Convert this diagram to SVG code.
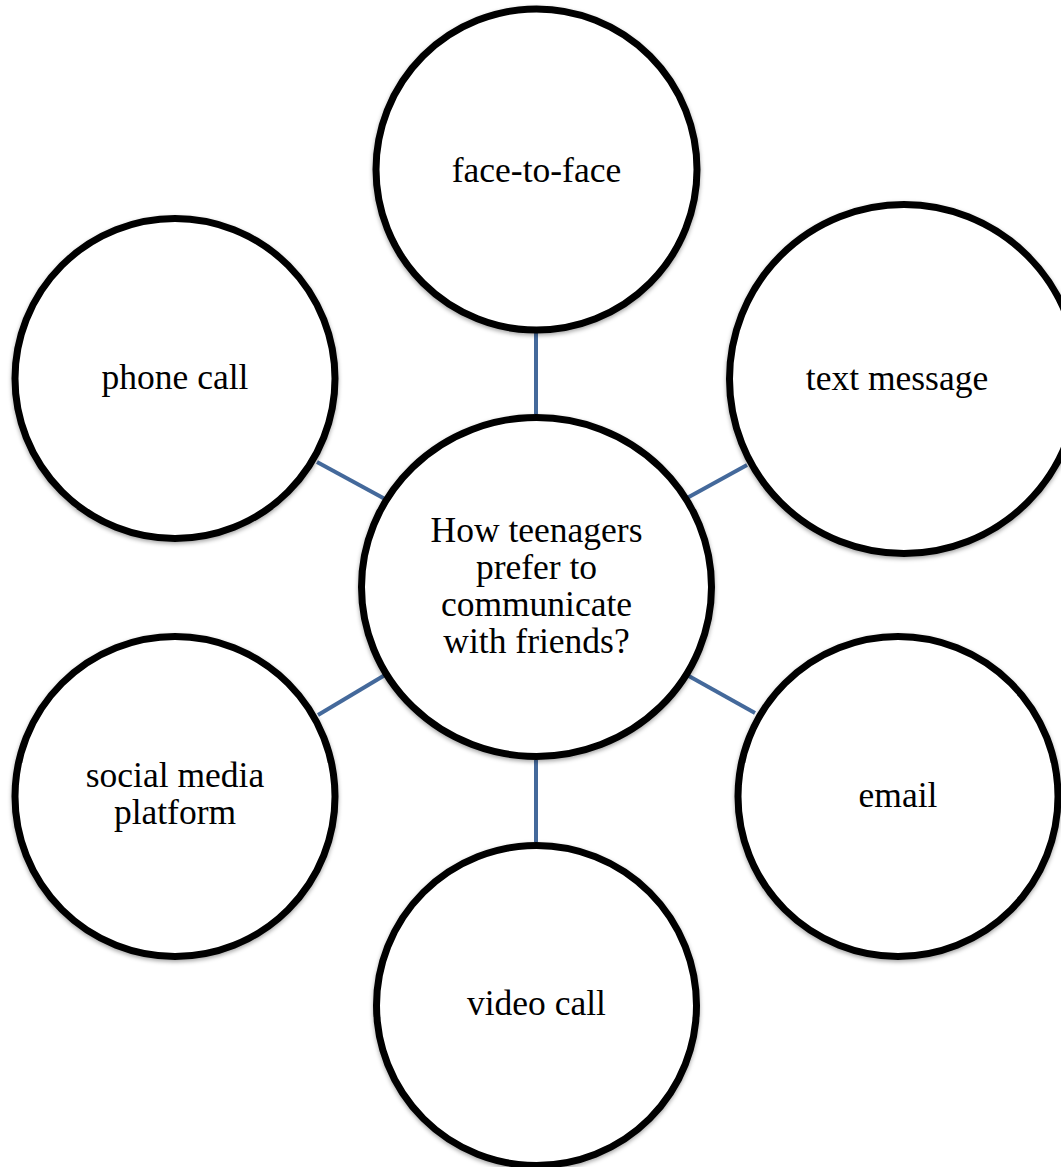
<svg xmlns="http://www.w3.org/2000/svg" width="1061" height="1167" viewBox="0 0 1061 1167">
<style>
.n{fill:#fff;stroke:#000;stroke-width:7;filter:url(#sh)}
.t{font-family:"Liberation Serif",serif;font-size:35.5px;fill:#000;text-anchor:middle}
.c{stroke:#44699B;stroke-width:4;fill:none}
</style>
<defs>
<filter id="sh" x="-10%" y="-10%" width="120%" height="125%">
<feDropShadow dx="0" dy="2" stdDeviation="2" flood-color="#000" flood-opacity="0.35"/>
</filter>
</defs>
<rect width="1061" height="1167" fill="#fff"/>
<g id="connectors">
<line class="c" x1="536" y1="333" x2="536" y2="414"/>
<line class="c" x1="536" y1="760" x2="536" y2="842"/>
<line class="c" x1="317" y1="462" x2="385" y2="499"/>
<line class="c" x1="687" y1="498" x2="747" y2="465"/>
<line class="c" x1="687" y1="675" x2="755" y2="713"/>
<line class="c" x1="385" y1="675" x2="318" y2="715"/>
</g>
<g id="n-face">
<circle class="n" cx="536.5" cy="169.5" r="160.5"/>
<text class="t" x="536.5" y="182">face-to-face</text>
</g>
<g id="n-phone">
<circle class="n" cx="175" cy="378.5" r="160"/>
<text class="t" x="175" y="389">phone call</text>
</g>
<g id="n-text">
<circle class="n" cx="904" cy="379" r="174.5"/>
<text class="t" x="897" y="390">text message</text>
</g>
<g id="n-social">
<circle class="n" cx="175" cy="796.5" r="160"/>
<text class="t" x="175" y="787">social media</text>
<text class="t" x="175" y="824">platform</text>
</g>
<g id="n-email">
<circle class="n" cx="898" cy="796.5" r="160"/>
<text class="t" x="898" y="807">email</text>
</g>
<g id="n-video">
<circle class="n" cx="536.5" cy="1005.5" r="160"/>
<text class="t" x="536.5" y="1015">video call</text>
</g>
<g id="n-center">
<ellipse class="n" cx="536.5" cy="587" rx="175" ry="169.5"/>
<text class="t" x="536.5" y="542">How teenagers</text>
<text class="t" x="536.5" y="579">prefer to</text>
<text class="t" x="536.5" y="616">communicate</text>
<text class="t" x="536.5" y="653">with friends?</text>
</g>
</svg>
